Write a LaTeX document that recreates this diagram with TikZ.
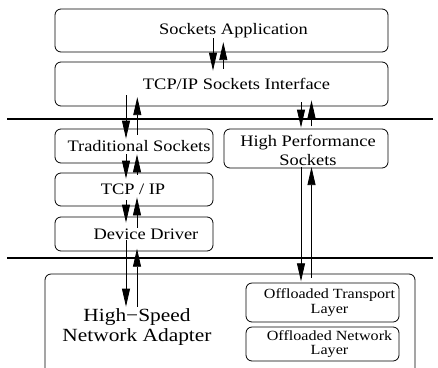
\documentclass[tikz,border=0pt]{standalone}
\usepackage{fontspec}
\setmainfont{Liberation Serif}[FakeStretch=1.15]
\usetikzlibrary{arrows.meta,calc}
\begin{document}
\begin{tikzpicture}[x=1pt,y=-1pt,
  box/.style={draw, rounded corners=6pt, line width=0.8pt, inner sep=0pt},
  lbl/.style={font=\fontsize{16}{19}\selectfont, align=center, inner sep=0pt},
  small/.style={font=\fontsize{14}{14.5}\selectfont, align=center, inner sep=0pt},
  big/.style={font=\fontsize{18.6}{20}\selectfont, align=center, inner sep=0pt},
  arr/.style={line width=0.8pt, -{Triangle[length=18pt,width=8pt]}},
  sep/.style={line width=1.5pt}]
\useasboundingbox (0,0) rectangle (438,367);
% boxes
\node[box, minimum width=333pt, minimum height=43pt,
      label={[lbl, xshift=12pt]center:Sockets Application}] (sa) at (221.5,30.5) {};
\node[box, minimum width=333pt, minimum height=44pt,
      label={[lbl, xshift=15pt]center:TCP/IP Sockets Interface}] (tif) at (221.5,84) {};
\node[box, minimum width=158pt, minimum height=34pt,
      label={[lbl, xshift=5pt]center:Traditional Sockets}] (ts) at (134,146) {};
\node[box, minimum width=164pt, minimum height=39pt,
      label={[lbl, xshift=2pt, yshift=-1.5pt]center:High Performance\\Sockets}] (hps) at (306,148.5) {};
\node[box, minimum width=158pt, minimum height=33pt,
      label={[lbl, xshift=-1pt]center:TCP / IP}] (tcp) at (134,189.5) {};
\node[box, minimum width=158pt, minimum height=34pt,
      label={[lbl, xshift=12pt]center:Device Driver}] (dd) at (134,234) {};
\node[box, minimum width=370pt, minimum height=110pt] (nic) at (230,329) {};
\node[big] (nictext) at (137,327) {High−Speed\\Network Adapter};
\node[box, minimum width=153pt, minimum height=39pt,
      label={[small, xshift=7pt]center:Offloaded Transport\\Layer}] (otl) at (322.5,302.5) {};
\node[box, minimum width=153pt, minimum height=34pt,
      label={[small, xshift=7pt]center:Offloaded Network\\Layer}] (onl) at (322.5,344) {};
% separator lines
\coordinate (l1a) at (7,119); \coordinate (l1b) at (433,119);
\coordinate (l2a) at (7,258); \coordinate (l2b) at (433,258);
\draw[sep] (l1a) -- (l1b);
\draw[sep] (l2a) -- (l2b);
% arrows SA <-> TIF
\draw[arr] ($(sa.south)+(-8.5,-14)$) -- ($(tif.north)+(-8.5,9)$);
\draw[arr] ($(tif.north)+(1.8,7)$) -- ($(sa.south)+(1.8,-10.3)$);
% TIF <-> TS
\draw[arr] ($(ts.north |- tif.south)+(-8,-11)$) -- ($(ts.north)+(-8,10)$);
\draw[arr] ($(ts.north)+(3.3,6)$) -- ($(ts.north |- tif.south)+(3.3,-9.3)$);
% TS <-> TCP
\draw[arr] ($(ts.south)+(-8,-9)$) -- ($(tcp.north)+(-8,6)$);
\draw[arr] ($(tcp.north)+(3,2)$) -- ($(ts.south)+(3,-9)$);
% TCP <-> DD
\draw[arr] ($(tcp.south)+(-8,-6)$) -- ($(dd.north)+(-8,6)$);
\draw[arr] ($(dd.north)+(3,11)$) -- ($(tcp.south)+(3,-9)$);
% DD <-> NIC
\draw[arr] ($(dd.south)+(-8,-11)$) -- ($(dd.south |- nic.north)+(-8,33)$);
\draw[arr] ($(dd.south |- nic.north)+(3,33)$) -- ($(dd.south)+(3,-2.7)$);
% TIF <-> HPS
\draw[arr] ($(hps.north |- tif.south)+(-5,-4.3)$) -- ($(hps.north)+(-5,-1)$);
\draw[arr] ($(hps.north)+(5.5,-2.3)$) -- ($(hps.north |- tif.south)+(5.5,-6)$);
% HPS <-> OTL
\draw[arr] ($(hps.south)+(-5,-1.3)$) -- ($(hps.south |- otl.north)+(-5,-1.3)$);
\draw[arr] ($(hps.south |- otl.north)+(5.5,-4.7)$) -- ($(hps.south)+(5.5,-1.3)$);
\end{tikzpicture}
\end{document}
